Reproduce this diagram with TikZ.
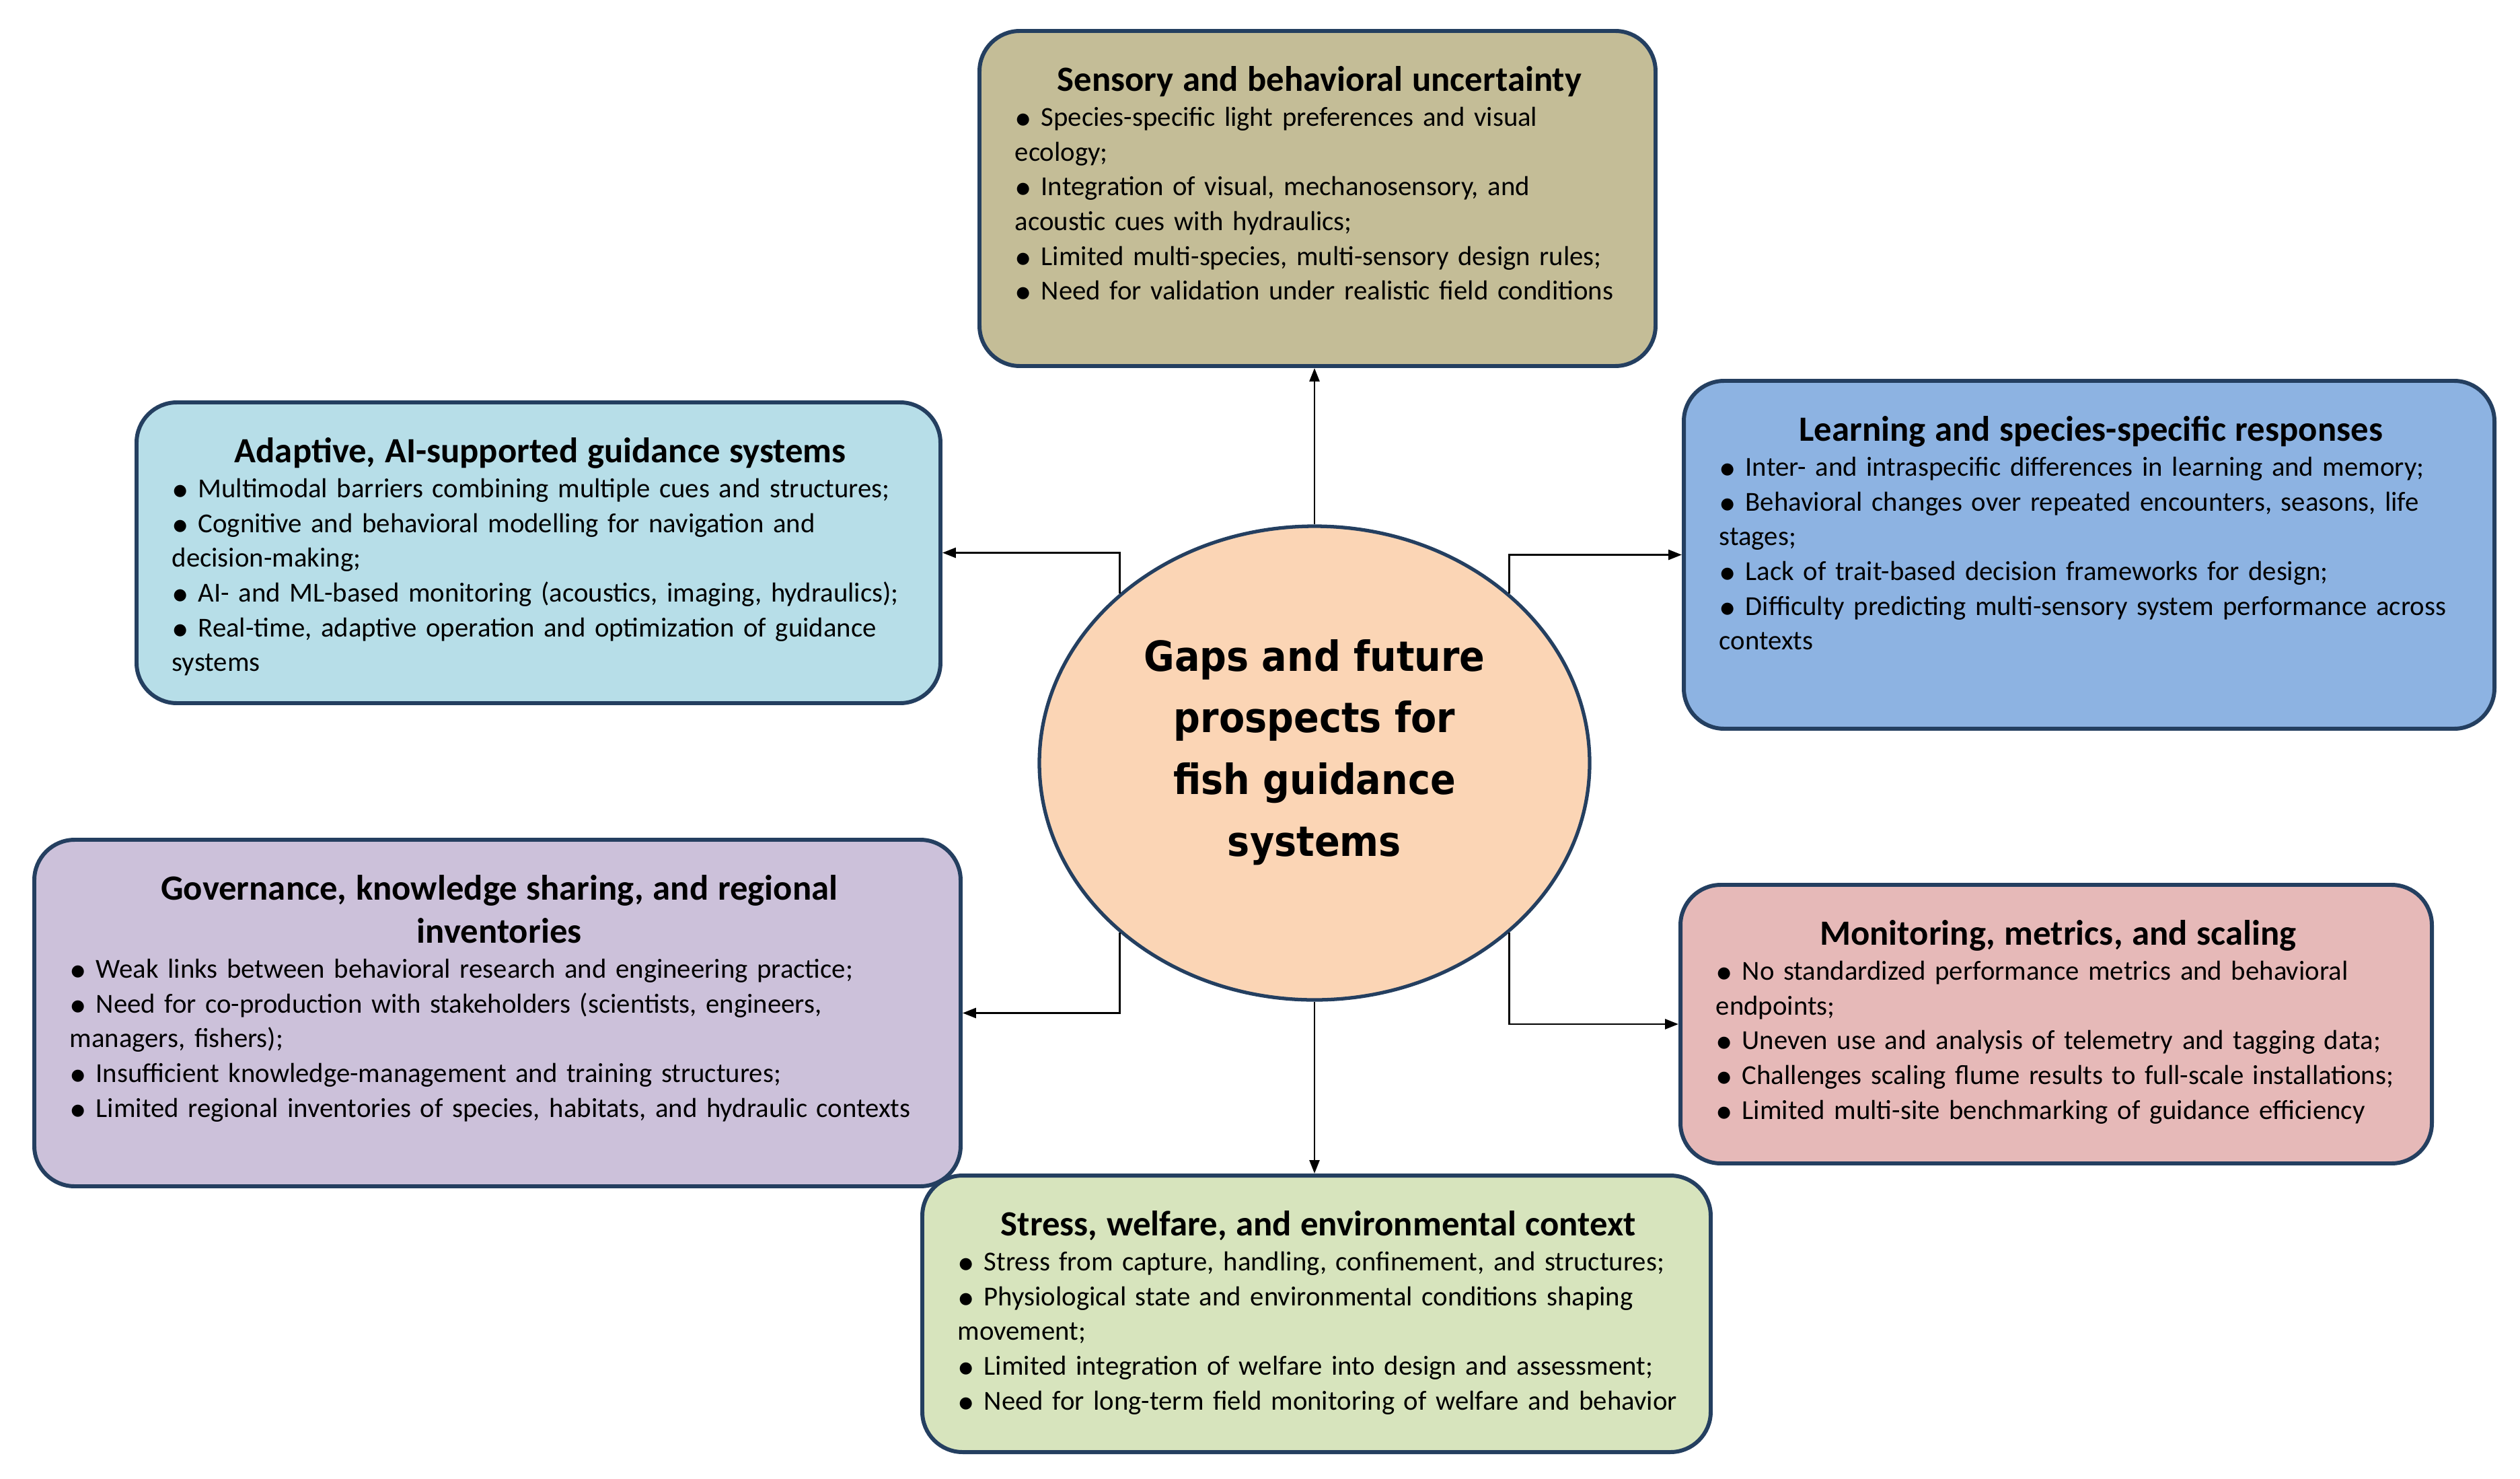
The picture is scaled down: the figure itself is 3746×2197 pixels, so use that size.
\documentclass[tikz,border=0pt]{standalone}
\usepackage{fontspec}
\setmainfont{Carlito}
\newfontfamily\hubfont[FakeStretch=0.9]{DejaVu Sans}
\usetikzlibrary{shapes.geometric, arrows.meta}

\definecolor{edge}{HTML}{243F60}
\definecolor{hubfill}{HTML}{FBD5B5}
\definecolor{sensfill}{HTML}{C4BD97}
\definecolor{adapfill}{HTML}{B7DEE8}
\definecolor{learnfill}{HTML}{8DB3E2}
\definecolor{govfill}{HTML}{CCC1DA}
\definecolor{monfill}{HTML}{E6B9B8}
\definecolor{stressfill}{HTML}{D7E4BD}

\newcommand{\boxtitle}{\fontsize{15}{18.2}\selectfont\bfseries\rule{0pt}{12pt}}
\newcommand{\bul}{\raisebox{-0.25ex}{\scalebox{1.25}{•}}\ }

\begin{document}
\begin{tikzpicture}[x=0.1mm, y=-0.1mm,
    gapbox/.style={rectangle, rounded corners=6mm, draw=edge, line width=1.7pt, anchor=north west},
    gaptext/.style={anchor=north west, inner sep=0pt, align=left, font=\fontsize{11.6}{14.7}\selectfont},
    hub/.style={ellipse, draw=edge, line width=1.5pt, fill=hubfill, minimum width=81.8mm, minimum height=70.4mm, inner sep=0pt},
    hubtext/.style={align=center, inner sep=0pt, font=\fontsize{17.6}{26.1}\selectfont\hubfont\bfseries},
    arr/.style={-{Triangle[length=2mm, width=1.5mm]}, line width=0.8pt}]
    \useasboundingbox (0,0) rectangle (3746,2197);

    % Boxes
    \node[gapbox, fill=sensfill, minimum width=100.5mm, minimum height=49.8mm] (sens) at (1453,43) {};
    \node[gapbox, fill=adapfill, minimum width=119.5mm, minimum height=44.7mm] (adap) at (200,595) {};
    \node[gapbox, fill=learnfill, minimum width=120.5mm, minimum height=51.7mm] (learn) at (2500,563) {};
    \node[gapbox, fill=govfill, minimum width=137.7mm, minimum height=51.5mm] (gov) at (48,1245) {};
    \node[gapbox, fill=monfill, minimum width=111.7mm, minimum height=41.4mm] (mon) at (2495,1312) {};
    \node[gapbox, fill=stressfill, minimum width=117.2mm, minimum height=41.1mm] (stress) at (1368,1744) {};

    % Texts
    \node[gaptext, text width=90.5mm] (senstxt) at ([shift={(55,50)}]sens.north west) {%
        {\centering\boxtitle Sensory and behavioral uncertainty\par}
        \bul Species-specific light preferences and visual\\ecology;\\
        \bul Integration of visual, mechanosensory, and\\acoustic cues with hydraulics;\\
        \bul Limited multi-species, multi-sensory design rules;\\
        \bul Need for validation under realistic field conditions};
    \node[gaptext, text width=109.5mm] (adaptxt) at ([shift={(55,50)}]adap.north west) {%
        {\centering\boxtitle Adaptive, AI-supported guidance systems\par}
        \bul Multimodal barriers combining multiple cues and structures;\\
        \bul Cognitive and behavioral modelling for navigation and\\decision-making;\\
        \bul AI- and ML-based monitoring (acoustics, imaging, hydraulics);\\
        \bul Real-time, adaptive operation and optimization of guidance\\systems};
    \node[gaptext, text width=110.5mm] (learntxt) at ([shift={(55,50)}]learn.north west) {%
        {\centering\boxtitle Learning and species-specific responses\par}
        \bul Inter- and intraspecific differences in learning and memory;\\
        \bul Behavioral changes over repeated encounters, seasons, life\\stages;\\
        \bul Lack of trait-based decision frameworks for design;\\
        \bul Difficulty predicting multi-sensory system performance across\\contexts};
    \node[gaptext, text width=127.7mm] (govtxt) at ([shift={(55,50)}]gov.north west) {%
        {\centering\boxtitle Governance, knowledge sharing, and regional\\inventories\par}
        \bul Weak links between behavioral research and engineering practice;\\
        \bul Need for co-production with stakeholders (scientists, engineers,\\managers, fishers);\\
        \bul Insufficient knowledge-management and training structures;\\
        \bul Limited regional inventories of species, habitats, and hydraulic contexts};
    \node[gaptext, text width=101.7mm] (montxt) at ([shift={(55,50)}]mon.north west) {%
        {\centering\boxtitle Monitoring, metrics, and scaling\par}
        \bul No standardized performance metrics and behavioral\\endpoints;\\
        \bul Uneven use and analysis of telemetry and tagging data;\\
        \bul Challenges scaling flume results to full-scale installations;\\
        \bul Limited multi-site benchmarking of guidance efficiency};
    \node[gaptext, text width=107.2mm] (stresstxt) at ([shift={(55,50)}]stress.north west) {%
        {\centering\boxtitle Stress, welfare, and environmental context\par}
        \bul Stress from capture, handling, confinement, and structures;\\
        \bul Physiological state and environmental conditions shaping\\movement;\\
        \bul Limited integration of welfare into design and assessment;\\
        \bul Need for long-term field monitoring of welfare and behavior};

    % Centre
    \node[hub] (hub) at (1954,1134) {};
    \node[hubtext] (hubtxt) at (1954,1118) {Gaps and future\\prospects for\\fish guidance\\systems};

    % Arrows
    \draw[arr] (hub.north) -- (hub.north |- sens.south);
    \draw[arr] (hub.south) -- (hub.south |- stress.north);
    \draw[arr] (hub.139) |- (adap.east);
    \draw[arr] (hub.221) |- (gov.east);
    \draw[arr] (hub.41) |- (learn.west);
    \draw[arr] (hub.319) |- (mon.west);
\end{tikzpicture}
\end{document}
